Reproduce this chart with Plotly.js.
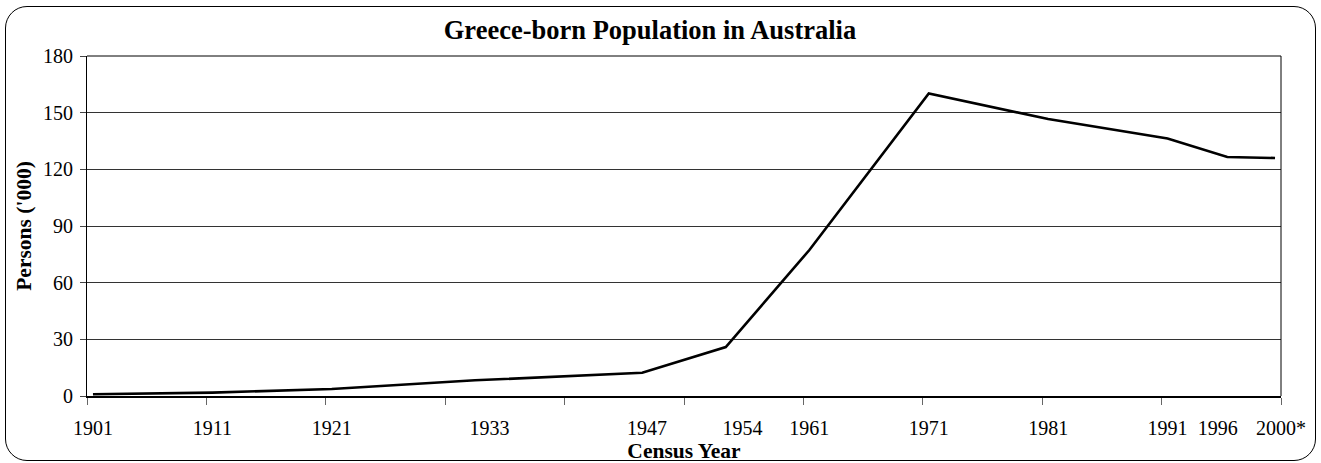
<!DOCTYPE html>
<html>
<head>
<meta charset="utf-8">
<script src="https://cdn.plot.ly/plotly-3.0.1.min.js"></script>
<style>
  html, body { margin: 0; padding: 0; background: #fff; }
  #wrap { position: relative; width: 1321px; height: 463px; }
  #chart { position: absolute; left: 0; top: 0; width: 1321px; height: 463px; }
  #frame { position: absolute; left: 5px; top: 6px; width: 1311px; height: 455px;
           box-sizing: border-box; border: 1px solid #000; border-radius: 22px;
           pointer-events: none; }
</style>
</head>
<body>
<div id="wrap">
  <div id="chart"></div>
  <div id="frame"></div>
</div>
<script>
// Census years and Greece-born persons ('000)
const censusYears = [1901, 1911, 1921, 1933, 1947, 1954, 1961, 1971, 1981, 1991, 1996, 2000];
const persons     = [0.9, 1.8, 3.7, 8.3, 12.3, 25.9, 77.3, 160.2, 146.6, 136.3, 126.5, 126.0];
const tickLabels  = ['1901', '1911', '1921', '1933', '1947', '1954', '1961', '1971', '1981', '1991', '1996', '2000*'];
const yTicks      = [0, 30, 60, 90, 120, 150, 180];

// ---- layout helpers (not data) ----
// small horizontal nudges (in years) of some hand-placed labels in the original
const labelNudge = { '1933': 1.2, '1947': 0.4, '1954': 1.4, '1996': -0.8, '2000*': 0.5 };
const labelPos = censusYears.map((yr, i) => yr + (labelNudge[tickLabels[i]] || 0));

// decade boundaries for the tick marks (category edges)
const decadeEdges = [];
for (let y = 1900.5; y <= 2000.5; y += 10) decadeEdges.push(y);

const serif = 'Liberation Serif, Times New Roman, serif';

const trace = {
  x: censusYears,
  y: persons,
  type: 'scatter',
  mode: 'lines',
  line: { color: '#000', width: 2.6 },
  hoverinfo: 'x+y',
  xaxis: 'x',
  yaxis: 'y'
};

const layout = {
  width: 1321,
  height: 463,
  margin: { l: 87, r: 40, t: 56, b: 67 },
  paper_bgcolor: '#fff',
  plot_bgcolor: '#fff',
  showlegend: false,
  font: { family: serif, color: '#000', size: 20 },
  title: {
    text: '<b>Greece-born Population in Australia</b>',
    font: { family: serif, size: 26.5, color: '#000' },
    x: 650 / 1321, xref: 'container', xanchor: 'center',
    y: 1 - 30 / 463, yref: 'container', yanchor: 'middle'
  },
  xaxis: {
    range: [1900.5, 2000.5],
    tickmode: 'array',
    tickvals: decadeEdges,
    ticktext: decadeEdges.map(() => ''),
    ticks: 'outside',
    ticklen: 7,
    tickwidth: 1,
    tickcolor: '#666',
    showgrid: false,
    zeroline: false,
    showline: true,
    linecolor: '#000',
    linewidth: 2,
    fixedrange: true
  },
  xaxis2: {
    range: [1900.5, 2000.5],
    overlaying: 'x',
    anchor: 'y',
    side: 'bottom',
    tickmode: 'array',
    tickvals: labelPos,
    ticktext: tickLabels,
    ticks: '',
    ticklabelstandoff: 18,
    tickfont: { family: serif, size: 20, color: '#000' },
    showgrid: false,
    zeroline: false,
    showline: false,
    title: {
      text: '<b>Census Year</b>',
      font: { family: serif, size: 21.5, color: '#000' },
      standoff: 0
    },
    fixedrange: true
  },
  yaxis: {
    range: [0, 180],
    tickmode: 'array',
    tickvals: yTicks,
    ticks: 'outside',
    ticklen: 6,
    tickwidth: 1,
    tickcolor: '#444',
    ticklabelstandoff: 3,
    tickfont: { family: serif, size: 20, color: '#000' },
    showgrid: true,
    gridcolor: '#333',
    gridwidth: 1,
    zeroline: false,
    showline: true,
    linecolor: '#000',
    linewidth: 1,
    title: {
      text: '<b>Persons (\'000)</b>',
      font: { family: serif, size: 21.5, color: '#000' },
      standoff: 5
    },
    fixedrange: true
  },
  shapes: [
    { type: 'line', xref: 'paper', yref: 'paper', x0: 0, x1: 1, y0: 1, y1: 1,
      line: { color: '#000', width: 1 } },
    { type: 'line', xref: 'paper', yref: 'paper', x0: 1, x1: 1, y0: 0, y1: 1,
      line: { color: '#000', width: 1 } }
  ]
};

// invisible trace on xaxis2 so the label axis is drawn
const labelTrace = {
  x: censusYears, y: persons, xaxis: 'x2', yaxis: 'y',
  type: 'scatter', mode: 'lines', line: { width: 0, color: 'rgba(0,0,0,0)' },
  hoverinfo: 'skip', showlegend: false
};

Plotly.newPlot('chart', [labelTrace, trace], layout, { displayModeBar: false, staticPlot: true });
</script>
</body>
</html>
